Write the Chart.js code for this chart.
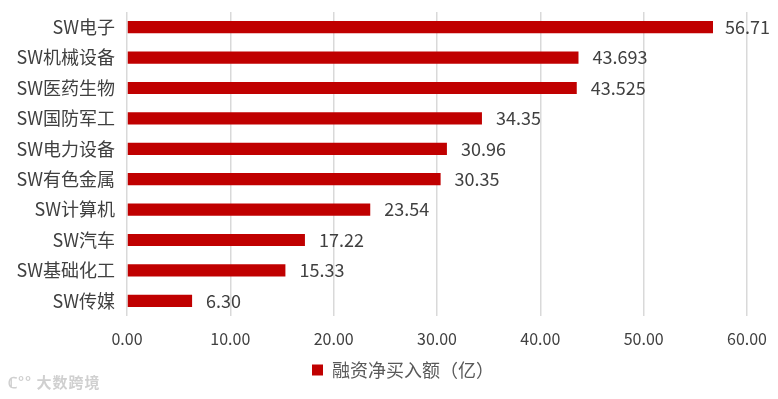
<!DOCTYPE html>
<html>
<head>
<meta charset="utf-8">
<script src="https://cdn.jsdelivr.net/npm/chart.js@4/dist/chart.umd.min.js"></script>
<style>
  html, body { margin: 0; padding: 0; background: #fff; }
  #wrap { position: relative; width: 778px; height: 399px; }
  #mark { position: absolute; left: 8px; top: 371px; color: #d0d0d0; font: bold 15px "Noto Sans CJK SC", sans-serif; letter-spacing: 1px; }
</style>
</head>
<body>
<div id="wrap">
  <canvas id="c" width="778" height="399"></canvas>
  <div id="mark">ℂ°° 大数跨境</div>
</div>
<script>
'use strict'

// categories (top to bottom) and values
const sectors = ['SW电子', 'SW机械设备', 'SW医药生物', 'SW国防军工', 'SW电力设备', 'SW有色金属', 'SW计算机', 'SW汽车', 'SW基础化工', 'SW传媒'];
const netBuy = [56.71, 43.693, 43.525, 34.35, 30.96, 30.35, 23.54, 17.22, 15.33, 6.30];
const valueText = ['56.71', '43.693', '43.525', '34.35', '30.96', '30.35', '23.54', '17.22', '15.33', '6.30'];
const seriesName = '融资净买入额（亿）';

const FONT = '"Noto Sans CJK SC", "Noto Sans", sans-serif';
const TXT = '#404040';

// labels at the end of each bar
const barLabels = {
  id: 'barLabels',
  beforeDraw(chart) {
    // legend sits a bit right of canvas centre in the original
    if (!chart.$legendMoved) {
      chart.legend.left += 14;
      chart.legend.right += 14;
      chart.$legendMoved = true;
    }
  },
  afterDatasetsDraw(chart) {
    const ctx = chart.ctx;
    const meta = chart.getDatasetMeta(0);
    ctx.save();
    ctx.font = '18px ' + FONT;
    ctx.fillStyle = TXT;
    ctx.textBaseline = 'middle';
    ctx.textAlign = 'left';
    meta.data.forEach((bar, i) => {
      const t = valueText[i];
      let x = bar.x + 14;
      const w = ctx.measureText(t).width;
      if (x + w > chart.width - 8) x = chart.width - 8 - w;
      ctx.fillText(t, x, bar.y);
    });
    ctx.restore();
  }
};

new Chart(document.getElementById('c'), {
  type: 'bar',
  data: {
    labels: sectors,
    datasets: [{
      label: seriesName,
      data: netBuy,
      backgroundColor: '#C00000',
      borderWidth: 0,
      categoryPercentage: 1,
      barPercentage: 0.4
    }]
  },
  options: {
    indexAxis: 'y',
    responsive: false,
    animation: false,
    layout: { padding: { left: 2, right: 2, top: 12, bottom: 10 } },
    scales: {
      x: {
        min: 0, max: 60,
        ticks: {
          stepSize: 10,
          color: TXT,
          font: { family: FONT, size: 16 },
          padding: 13,
          callback: v => v.toFixed(2)
        },
        grid: { color: '#d9d9d9', lineWidth: 1.5, drawTicks: false },
        border: { display: false },
        afterFit(scale) {
          scale.height = 40;
          scale.paddingRight = 31;
          scale.paddingLeft = 0;
        }
      },
      y: {
        ticks: { color: TXT, font: { family: FONT, size: 18 }, padding: 12 },
        grid: { display: false, drawTicks: false },
        border: { display: false },
        afterFit(scale) {
          scale.width = 125;
          scale.paddingTop = 0;
          scale.paddingBottom = 0;
        }
      }
    },
    plugins: {
      legend: {
        position: 'bottom',
        labels: {
          color: '#595959',
          font: { family: FONT, size: 18 },
          boxWidth: 11,
          boxHeight: 11,
          padding: 5
        }
      },
      tooltip: { enabled: false }
    }
  },
  plugins: [barLabels]
});
</script>
</body>
</html>
